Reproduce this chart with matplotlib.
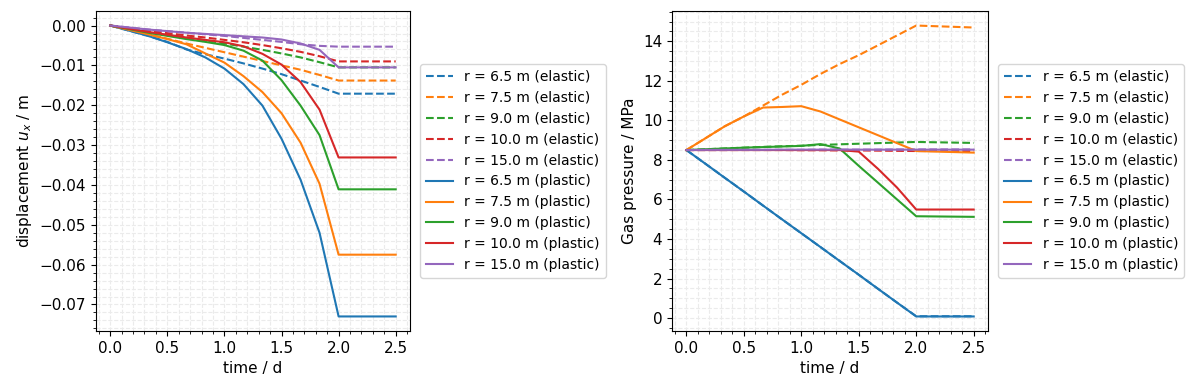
import matplotlib

matplotlib.use("Agg")
import matplotlib.pyplot as plt

# time steps in days
time_d = [0.0, 0.167, 0.333, 0.5, 0.667, 0.833, 1.0, 1.167, 1.333, 1.5, 1.667, 1.833, 2.0, 2.5]
radii = ["6.5", "7.5", "9.0", "10.0", "15.0"]
colors = ["tab:blue", "tab:orange", "tab:green", "tab:red", "tab:purple"]

# displacement u_x / m
ux_elastic_65 = [0, -0.0013, -0.0026, -0.0041, -0.0060, -0.0072, -0.0083, -0.0095, -0.0108, -0.0122, -0.0138, -0.0154, -0.0171, -0.0171]
ux_elastic_75 = [0, -0.0011, -0.0022, -0.0033, -0.0045, -0.0056, -0.0067, -0.0078, -0.0089, -0.0100, -0.0111, -0.0124, -0.0138, -0.0138]
ux_elastic_90 = [0, -0.0008, -0.0016, -0.0023, -0.0030, -0.0037, -0.0045, -0.0053, -0.0061, -0.0070, -0.0080, -0.0092, -0.0105, -0.0105]
ux_elastic_100 = [0, -0.0007, -0.0013, -0.0019, -0.0025, -0.0030, -0.0036, -0.0042, -0.0049, -0.0057, -0.0066, -0.0077, -0.0090, -0.0090]
ux_elastic_150 = [0, -0.0005, -0.0010, -0.0014, -0.0018, -0.0022, -0.0026, -0.0031, -0.0036, -0.0041, -0.0047, -0.0051, -0.0053, -0.0053]

ux_plastic_65 = [0, -0.0013, -0.0026, -0.0042, -0.0059, -0.0080, -0.0108, -0.0147, -0.0201, -0.0284, -0.0387, -0.0520, -0.0730, -0.0730]
ux_plastic_75 = [0, -0.0011, -0.0022, -0.0034, -0.0047, -0.0070, -0.0093, -0.0127, -0.0167, -0.0220, -0.0294, -0.0397, -0.0575, -0.0575]
ux_plastic_90 = [0, -0.0009, -0.0018, -0.0026, -0.0034, -0.0041, -0.0049, -0.0063, -0.0088, -0.0137, -0.0201, -0.0275, -0.0411, -0.0411]
ux_plastic_100 = [0, -0.0008, -0.0016, -0.0023, -0.0030, -0.0036, -0.0042, -0.0052, -0.0071, -0.0098, -0.0142, -0.0211, -0.0331, -0.0331]
ux_plastic_150 = [0, -0.0005, -0.0010, -0.0014, -0.0018, -0.0021, -0.0024, -0.0027, -0.0030, -0.0035, -0.0045, -0.0061, -0.0105, -0.0105]

# gas pressure / MPa
p_elastic_65 = [8.5, 7.80, 7.10, 6.40, 5.69, 4.99, 4.29, 3.59, 2.89, 2.19, 1.48, 0.78, 0.09, 0.09]
p_elastic_75 = [8.5, 9.10, 9.70, 10.20, 10.75, 11.30, 11.80, 12.35, 12.85, 13.30, 13.80, 14.30, 14.80, 14.70]
p_elastic_90 = [8.5, 8.54, 8.58, 8.62, 8.66, 8.69, 8.72, 8.76, 8.79, 8.82, 8.85, 8.88, 8.91, 8.86]
p_elastic_100 = [8.5, 8.50, 8.50, 8.50, 8.50, 8.50, 8.49, 8.49, 8.48, 8.48, 8.47, 8.46, 8.45, 8.45]
p_elastic_150 = [8.5, 8.50, 8.50, 8.51, 8.51, 8.51, 8.51, 8.52, 8.52, 8.52, 8.52, 8.53, 8.53, 8.53]

p_plastic_65 = [8.5, 7.80, 7.10, 6.40, 5.69, 4.99, 4.29, 3.59, 2.89, 2.19, 1.48, 0.78, 0.08, 0.08]
p_plastic_75 = [8.5, 9.10, 9.70, 10.20, 10.65, 10.68, 10.72, 10.45, 10.05, 9.65, 9.25, 8.85, 8.45, 8.37]
p_plastic_90 = [8.5, 8.54, 8.58, 8.62, 8.65, 8.68, 8.71, 8.80, 8.58, 7.70, 6.85, 6.00, 5.15, 5.12]
p_plastic_100 = [8.5, 8.50, 8.50, 8.50, 8.50, 8.50, 8.50, 8.50, 8.50, 8.42, 7.55, 6.60, 5.49, 5.49]
p_plastic_150 = [8.5, 8.51, 8.51, 8.51, 8.51, 8.52, 8.52, 8.52, 8.52, 8.52, 8.52, 8.52, 8.52, 8.52]

ux_elastic = [ux_elastic_65, ux_elastic_75, ux_elastic_90, ux_elastic_100, ux_elastic_150]
ux_plastic = [ux_plastic_65, ux_plastic_75, ux_plastic_90, ux_plastic_100, ux_plastic_150]
p_elastic = [p_elastic_65, p_elastic_75, p_elastic_90, p_elastic_100, p_elastic_150]
p_plastic = [p_plastic_65, p_plastic_75, p_plastic_90, p_plastic_100, p_plastic_150]

plt.rcParams["xtick.labelsize"] = 11
plt.rcParams["ytick.labelsize"] = 11
plt.rcParams["axes.labelsize"] = 11


def draw(ax, elastic, plastic, ylabel):
    for r, c, vals in zip(radii, colors, elastic):
        ax.plot(time_d, vals, ls="--", color=c, label=f"r = {r} m (elastic)")
    for r, c, vals in zip(radii, colors, plastic):
        ax.plot(time_d, vals, ls="-", color=c, label=f"r = {r} m (plastic)")
    ax.set_xlabel("time / d")
    ax.set_ylabel(ylabel)
    ax.minorticks_on()
    ax.grid(True, which="both", ls="--", color="0.92", lw=0.8)
    ax.set_axisbelow(True)
    ax.legend(loc="center left", bbox_to_anchor=(1.01, 0.5), fontsize=10)


fig = plt.figure(figsize=(11.89, 3.9), dpi=100)
ax1 = fig.add_axes([0.0807, 0.1513, 0.2641, 0.8205])
ax2 = fig.add_axes([0.5652, 0.1513, 0.2658, 0.8205])

draw(ax1, ux_elastic, ux_plastic, "displacement $u_x$ / m")
draw(ax2, p_elastic, p_plastic, "Gas pressure / MPa")

fig.savefig("out.png", dpi=100)
